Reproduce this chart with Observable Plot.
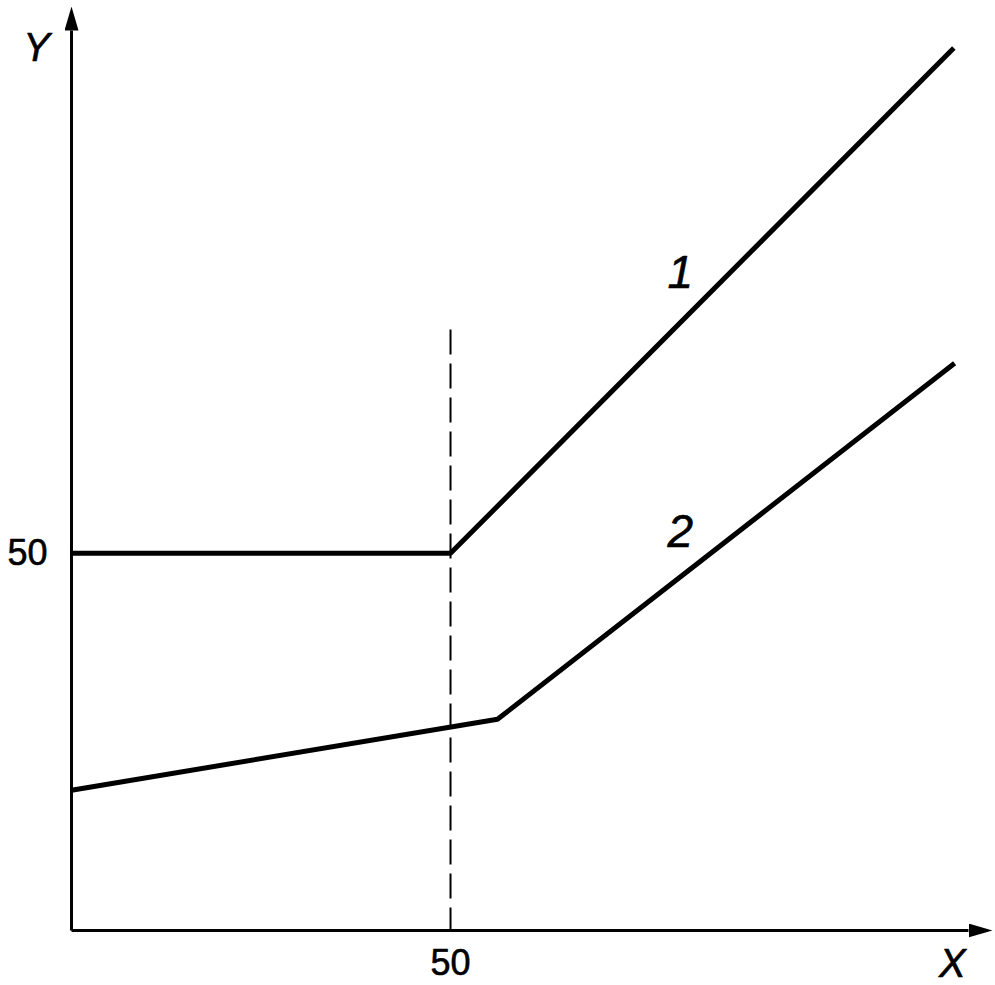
<!DOCTYPE html>
<html>
<head>
<meta charset="utf-8">
<script src="https://cdn.jsdelivr.net/npm/d3@7"></script>
<script src="https://cdn.jsdelivr.net/npm/@observablehq/plot@0.6"></script>
<style>
  html, body { margin: 0; padding: 0; background: #fff; }
  #chart svg { display: block; }
</style>
</head>
<body>
<div id="chart"></div>
<script>
// ---- data ----
const line1X = [0, 50, 116.4];
const line1Y = [50, 50, 117.0];
const line2X = [0, 56.2, 116.5];
const line2Y = [18.6, 28.0, 75.2];
const xTicks = [50];
const yTicks = [50];
const dashedX = 50;
const dashedTop = 79.6;
const curveLabels = ["1", "2"];
const curveLabelX = [80.3, 80.3];
const curveLabelY = [87.1, 52.8];
const axisNames = ["X", "Y"];
const axisNameX = [116.2, -4.6];
const axisNameY = [-4.5, 117.0];

const xMax = 121.5, yMax = 122.5;

const line1 = line1X.map((x, i) => ({x, y: line1Y[i]}));
const line2 = line2X.map((x, i) => ({x, y: line2Y[i]}));
const labels = curveLabels.map((t, i) => ({t, x: curveLabelX[i], y: curveLabelY[i]}));
const names = axisNames.map((t, i) => ({t, x: axisNameX[i], y: axisNameY[i]}));

const W = 995, H = 985;
const mL = 71, mR = 3, mT = 6, mB = 55;
const pxX = (W - mL - mR) / xMax;
const pxY = (H - mT - mB) / yMax;
const head = 24;
const axes = [
  {x1: 0, y1: 0, x2: xMax - head / pxX, y2: 0},
  {x1: 0, y1: 0, x2: 0, y2: yMax - head / pxY}
];

const textStyle = {fill: "#000", stroke: "#000", strokeWidth: 0.6};

const plot = Plot.plot({
  width: W,
  height: H,
  marginLeft: mL, marginRight: mR, marginTop: mT, marginBottom: mB,
  x: {domain: [0, xMax], axis: null},
  y: {domain: [0, yMax], axis: null},
  style: {fontFamily: "'Liberation Sans', Arial, sans-serif", background: "#fff", color: "#000"},
  marks: [
    Plot.ruleX([dashedX], {y1: dashedTop, y2: 0, stroke: "#000", strokeWidth: 2, strokeDasharray: "25,9"}),
    Plot.link(axes, {x1: "x1", y1: "y1", x2: "x2", y2: "y2", stroke: "#010101", strokeWidth: 3}),
    Plot.line(line1, {x: "x", y: "y", stroke: "#000", strokeWidth: 5, strokeLinejoin: "miter", strokeLinecap: "butt"}),
    Plot.line(line2, {x: "x", y: "y", stroke: "#000", strokeWidth: 5, strokeLinejoin: "miter", strokeLinecap: "butt"}),
    Plot.text(xTicks, {x: d => d, y: 0, dy: 33, text: d => String(d), fontSize: 36, ...textStyle}),
    Plot.text(yTicks, {x: 0, y: d => d, dx: -24, text: d => String(d), textAnchor: "end", fontSize: 36, ...textStyle}),
    Plot.text(labels, {x: "x", y: "y", text: "t", fontSize: 46, fontStyle: "italic", ...textStyle}),
    Plot.text(names, {x: "x", y: "y", text: "t", fontSize: 40, fontStyle: "italic", ...textStyle})
  ]
});

// filled arrowheads on the axes
const svg = d3.select(plot);
const defs = svg.insert("defs", ":first-child");
defs.append("marker")
  .attr("id", "axisHead")
  .attr("viewBox", `0 -7 ${head} 14`)
  .attr("markerUnits", "userSpaceOnUse")
  .attr("markerWidth", head)
  .attr("markerHeight", 14)
  .attr("refX", 0).attr("refY", 0)
  .attr("orient", "auto")
  .append("path")
  .attr("d", `M0,-7L${head},0L0,7Z`)
  .attr("fill", "#000");
svg.selectAll('g[stroke="#010101"] path, g[stroke="#010101"] line').attr("marker-end", "url(#axisHead)");

document.getElementById("chart").appendChild(plot);
</script>
</body>
</html>
